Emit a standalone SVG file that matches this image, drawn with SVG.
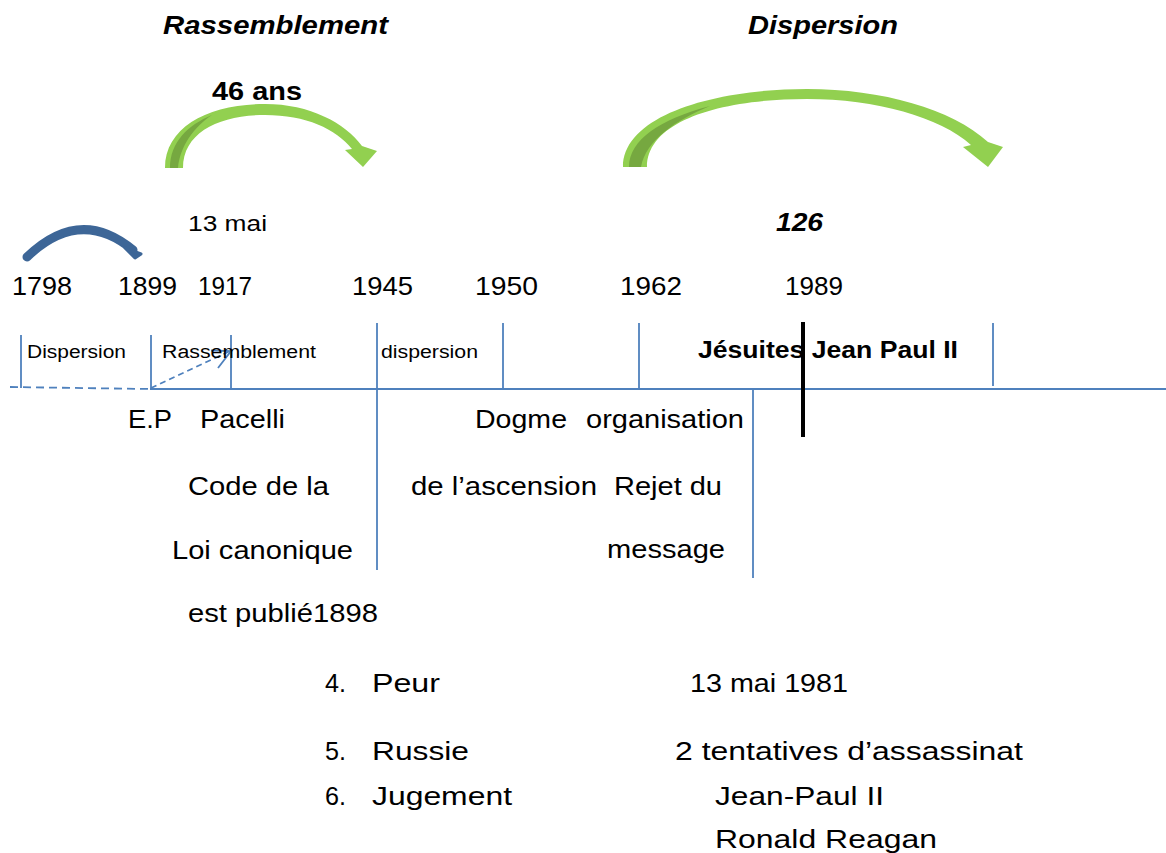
<svg xmlns="http://www.w3.org/2000/svg" width="1166" height="853" viewBox="0 0 1166 853">
<style>
text{font-family:"Liberation Sans",Arial,sans-serif;fill:#000}
.bi{font-weight:bold;font-style:italic;font-size:25px}
.b{font-weight:bold}
.yr{font-size:25px}
.sm{font-size:18px}
.md{font-size:25px}
.bl{stroke:#4f81bd;stroke-width:1.8;fill:none}
.green{fill:#92d050}
.dgreen{fill:#76a840}
</style>
<rect width="1166" height="853" fill="#fff"/>

<g id="titles">
<text class="bi" x="163" y="34" textLength="225" lengthAdjust="spacingAndGlyphs">Rassemblement</text>
<text class="bi" x="748" y="34" textLength="150" lengthAdjust="spacingAndGlyphs">Dispersion</text>
</g>

<g id="arrow-46">
<path class="green" d="M165,168 C165,126 210,104 265,104 C310,104 345,123 362,146 L377,151 L363,167 L345,150 L352,149 C336,129 306,115 265,115 C220,115 183,132 183,168 Z"/>
<path class="dgreen" d="M170,168 C170,142 188,125 212,115 C194,127 180,146 178,168 Z"/>
<text class="md b" x="212" y="100" textLength="90" lengthAdjust="spacingAndGlyphs">46 ans</text>
</g>

<g id="arrow-126">
<path class="green" d="M623,167 C623,115 715,89 807,89 C882,89 952,109 988,142 L1003,147 L988,167 L963,147 L971,145 C940,117 876,99 807,99 C720,99 647,121 647,167 Z"/>
<path class="dgreen" d="M629,167 C629,140 660,119 710,106 C676,120 646,140 641,167 Z"/>
<text class="bi" x="776" y="231" textLength="47" lengthAdjust="spacingAndGlyphs">126</text>
</g>

<g id="arrow-blue">
<path d="M27,257 Q80,206 133,250" fill="none" stroke="#3d6697" stroke-width="9" stroke-linecap="round"/>
<path d="M125,248 L141,254 L135,258 Z" fill="#3d6697" stroke="#3d6697" stroke-width="3" stroke-linejoin="round"/>
</g>

<g id="label-13mai">
<text x="188" y="231" font-size="22" textLength="79" lengthAdjust="spacingAndGlyphs">13 mai</text>
</g>

<g id="years" class="yr">
<text x="12" y="295" textLength="60" lengthAdjust="spacingAndGlyphs">1798</text>
<text x="118" y="295" textLength="59" lengthAdjust="spacingAndGlyphs">1899</text>
<text x="198" y="295" textLength="54" lengthAdjust="spacingAndGlyphs">1917</text>
<text x="352" y="295" textLength="61" lengthAdjust="spacingAndGlyphs">1945</text>
<text x="475" y="295" textLength="63" lengthAdjust="spacingAndGlyphs">1950</text>
<text x="620" y="295" textLength="62" lengthAdjust="spacingAndGlyphs">1962</text>
<text x="785" y="295" textLength="58" lengthAdjust="spacingAndGlyphs">1989</text>
</g>

<g id="connectors">
<line class="bl" x1="150" y1="389" x2="1166" y2="389"/>
<line class="bl" x1="10" y1="387" x2="150" y2="389" stroke-dasharray="8,5"/>
<line class="bl" x1="151" y1="388" x2="230" y2="351" stroke-dasharray="6,4"/>
<polyline class="bl" points="211,350.5 231,351 218,368"/>
<line class="bl" x1="21" y1="335" x2="21" y2="388"/>
<line class="bl" x1="151" y1="335" x2="151" y2="390"/>
<line class="bl" x1="231" y1="335" x2="231" y2="390"/>
<line class="bl" x1="377" y1="323" x2="377" y2="570"/>
<line class="bl" x1="503" y1="323" x2="503" y2="390"/>
<line class="bl" x1="639" y1="323" x2="639" y2="390"/>
<line class="bl" x1="753" y1="390" x2="753" y2="578"/>
<line class="bl" x1="993" y1="323" x2="993" y2="386"/>
<line x1="803" y1="322" x2="803" y2="437" stroke="#000" stroke-width="4"/>
</g>

<g id="periods" class="sm">
<text x="27" y="358" textLength="99" lengthAdjust="spacingAndGlyphs">Dispersion</text>
<text x="162" y="358" textLength="154" lengthAdjust="spacingAndGlyphs">Rassemblement</text>
<text x="381" y="358" textLength="97" lengthAdjust="spacingAndGlyphs">dispersion</text>
</g>
<g id="jesuites">
<text class="b" x="698" y="358" font-size="23" textLength="260" lengthAdjust="spacingAndGlyphs">Jésuites Jean Paul II</text>
</g>

<g id="pacelli" class="md">
<text y="428"><tspan x="128" textLength="44" lengthAdjust="spacingAndGlyphs">E.P</tspan><tspan x="200" textLength="85" lengthAdjust="spacingAndGlyphs">Pacelli</tspan></text>
<text x="188" y="495" textLength="141" lengthAdjust="spacingAndGlyphs">Code de la</text>
<text x="172" y="559" textLength="181" lengthAdjust="spacingAndGlyphs">Loi canonique</text>
<text x="188" y="622" textLength="190" lengthAdjust="spacingAndGlyphs">est publié1898</text>
</g>

<g id="dogme" class="md">
<text y="428"><tspan x="475" textLength="92" lengthAdjust="spacingAndGlyphs">Dogme</tspan><tspan x="586" textLength="158" lengthAdjust="spacingAndGlyphs">organisation</tspan></text>
<text y="495"><tspan x="411" textLength="186" lengthAdjust="spacingAndGlyphs">de l’ascension</tspan><tspan x="614" textLength="108" lengthAdjust="spacingAndGlyphs">Rejet du</tspan></text>
<text x="607" y="558" textLength="118" lengthAdjust="spacingAndGlyphs">message</text>
</g>

<g id="list" class="md">
<text y="692"><tspan x="325" textLength="21" lengthAdjust="spacingAndGlyphs">4.</tspan><tspan x="372" textLength="68" lengthAdjust="spacingAndGlyphs">Peur</tspan></text>
<text y="760"><tspan x="325" textLength="21" lengthAdjust="spacingAndGlyphs">5.</tspan><tspan x="372" textLength="97" lengthAdjust="spacingAndGlyphs">Russie</tspan></text>
<text y="805"><tspan x="325" textLength="21" lengthAdjust="spacingAndGlyphs">6.</tspan><tspan x="372" textLength="140" lengthAdjust="spacingAndGlyphs">Jugement</tspan></text>
</g>

<g id="assassinat" class="md">
<text x="690" y="692" textLength="158" lengthAdjust="spacingAndGlyphs">13 mai 1981</text>
<text x="675" y="760" textLength="348" lengthAdjust="spacingAndGlyphs">2 tentatives d’assassinat</text>
<text x="715" y="805" textLength="169" lengthAdjust="spacingAndGlyphs">Jean-Paul II</text>
<text x="715" y="848" textLength="222" lengthAdjust="spacingAndGlyphs">Ronald Reagan</text>
</g>
</svg>
